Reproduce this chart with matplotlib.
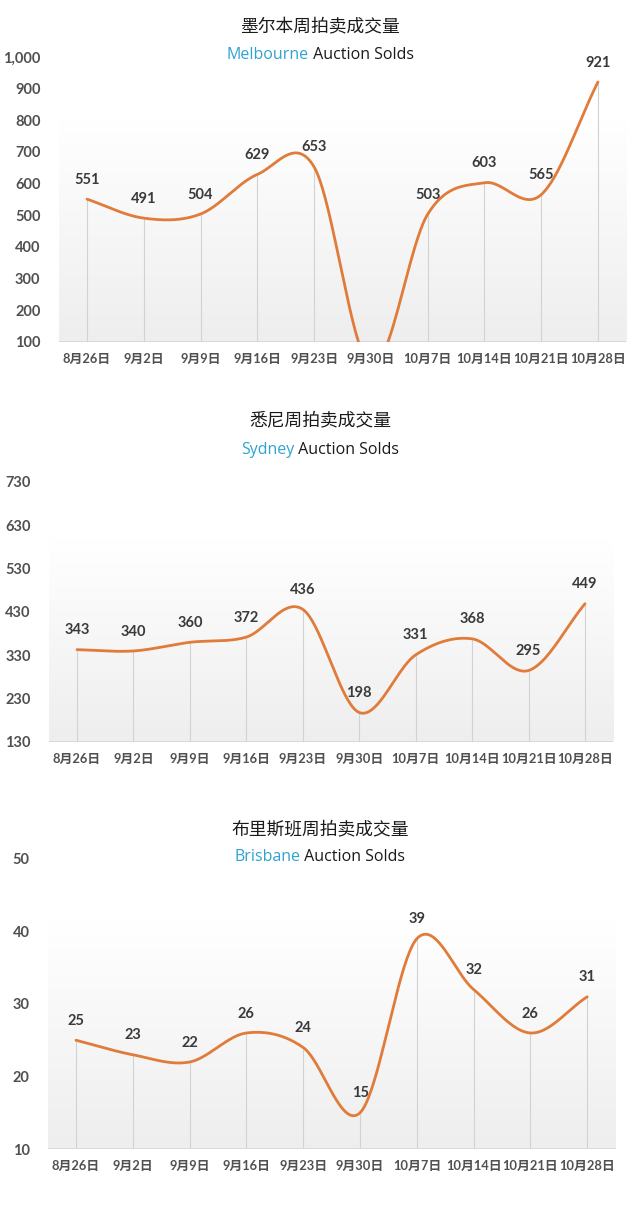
import numpy as np
import matplotlib
matplotlib.use("Agg")
import matplotlib.pyplot as plt
from matplotlib.colors import LinearSegmentedColormap

# ---------------- data ----------------
categories = ["8月26日", "9月2日", "9月9日", "9月16日", "9月23日",
              "9月30日", "10月7日", "10月14日", "10月21日", "10月28日"]

melbourne_values = [551, 491, 504, 629, 653, 25, 503, 603, 565, 921]
sydney_values = [343, 340, 360, 372, 436, 198, 331, 368, 295, 449]
brisbane_values = [25, 23, 22, 26, 24, 15, 39, 32, 26, 31]

melbourne_ticks = [100, 200, 300, 400, 500, 600, 700, 800, 900, 1000]
melbourne_ticklabels = ["100", "200", "300", "400", "500", "600", "700", "800", "900", "1,000"]
sydney_ticks = [130, 230, 330, 430, 530, 630, 730]
brisbane_ticks = [10, 20, 30, 40, 50]

titles_cn = ["墨尔本周拍卖成交量", "悉尼周拍卖成交量", "布里斯班周拍卖成交量"]
titles_city = ["Melbourne", "Sydney", "Brisbane"]
title_rest = " Auction Solds"

# ---------------- style ----------------
LINE_C = "#E07B39"
LABEL_C = "#3a3a3a"
TICK_C = "#505050"
BLUE = "#2FA3D0"
NUM_FONT = ["Lato", "Noto Sans CJK SC", "DejaVu Sans"]
CN_FONT = ["Noto Sans CJK SC", "DejaVu Sans"]
SUB_FONT = ["Open Sans", "DejaVu Sans"]

fig = plt.figure(figsize=(6.4, 12.1), dpi=100)


def catmull(x, y, n=40):
    x = np.asarray(x, float)
    y = np.asarray(y, float)
    m = np.zeros_like(y)
    m[1:-1] = (y[2:] - y[:-2]) / 2.0
    m[0] = y[1] - y[0]
    m[-1] = y[-1] - y[-2]
    xs, ys = [], []
    for i in range(len(x) - 1):
        t = np.linspace(0, 1, n, endpoint=(i == len(x) - 2))
        h00 = 2 * t**3 - 3 * t**2 + 1
        h10 = t**3 - 2 * t**2 + t
        h01 = -2 * t**3 + 3 * t**2
        h11 = t**3 - t**2
        ys.append(h00 * y[i] + h10 * m[i] + h01 * y[i + 1] + h11 * m[i + 1])
        xs.append(x[i] + t * (x[i + 1] - x[i]))
    return np.concatenate(xs), np.concatenate(ys)


grad_cmap = LinearSegmentedColormap.from_list("g", ["#eeeeee", "#ffffff"])


def panel(rect, values, ticks, ticklabels, ylim):
    ax = fig.add_axes(rect)
    x = np.arange(len(categories))
    ax.set_xlim(-0.5, len(categories) - 0.5)
    ax.set_ylim(*ylim)
    # gradient background
    grad = np.linspace(0, 1, 256).reshape(-1, 1)
    ax.imshow(grad, cmap=grad_cmap, origin="lower", aspect="auto",
              extent=[0, 1, 0, 0.78], transform=ax.transAxes, zorder=0)
    for s in ax.spines.values():
        s.set_visible(False)
    ax.axhline(ylim[0], color="#d6d6d6", lw=1.3, zorder=1)
    ax.vlines(x, ylim[0], values, colors="#d2d2d2", lw=0.8, zorder=1)
    xs, ys = catmull(x, values)
    ax.plot(xs, ys, color=LINE_C, lw=2.0, zorder=3, solid_capstyle="round")
    for xi, v in zip(x, values):
        ax.annotate(str(v), (xi, v), xytext=(0, 14), textcoords="offset points",
                    ha="center", va="center", fontsize=10.5, fontweight="bold",
                    color=LABEL_C, family=NUM_FONT, zorder=4)
    ax.set_xticks(x)
    ax.set_xticklabels(categories, family=NUM_FONT, fontsize=9.3,
                       fontweight="bold", color=TICK_C)
    ax.set_yticks(ticks)
    ax.set_yticklabels(ticklabels, family=NUM_FONT, fontsize=10.5,
                       fontweight="bold", color=TICK_C)
    ax.tick_params(axis="y", length=0, pad=13)
    ax.tick_params(axis="x", length=0, pad=8)
    return ax


panel([0.0916, 0.7174, 0.887, 0.2355], melbourne_values, melbourne_ticks,
      melbourne_ticklabels, (100, 1000))
panel([0.0762, 0.3868, 0.882, 0.2149], sydney_values, sydney_ticks,
      [str(t) for t in sydney_ticks], (130, 730))
panel([0.0744, 0.0504, 0.8875, 0.2397], brisbane_values, brisbane_ticks,
      [str(t) for t in brisbane_ticks], (10, 50))

title_y = [0.9777, 0.652, 0.3149]
sub_y = [0.9545, 0.628, 0.2917]

fig.canvas.draw()
renderer = fig.canvas.get_renderer()
for tcn, city, ty, sy in zip(titles_cn, titles_city, title_y, sub_y):
    fig.text(0.5, ty, tcn, ha="center", va="center", fontsize=12.8,
             family=CN_FONT, fontweight="medium", color="#1a1a1a")
    t1 = fig.text(0, sy, city, ha="left", va="center", fontsize=11.5,
                  family=SUB_FONT, color=BLUE)
    t2 = fig.text(0, sy, title_rest, ha="left", va="center", fontsize=11.5,
                  family=SUB_FONT, color="#1a1a1a")
    w1 = t1.get_window_extent(renderer).width / fig.bbox.width
    w2 = t2.get_window_extent(renderer).width / fig.bbox.width
    start = 0.5 - (w1 + w2) / 2
    t1.set_x(start)
    t2.set_x(start + w1)

fig.savefig("out.png", dpi=100, facecolor="white")
